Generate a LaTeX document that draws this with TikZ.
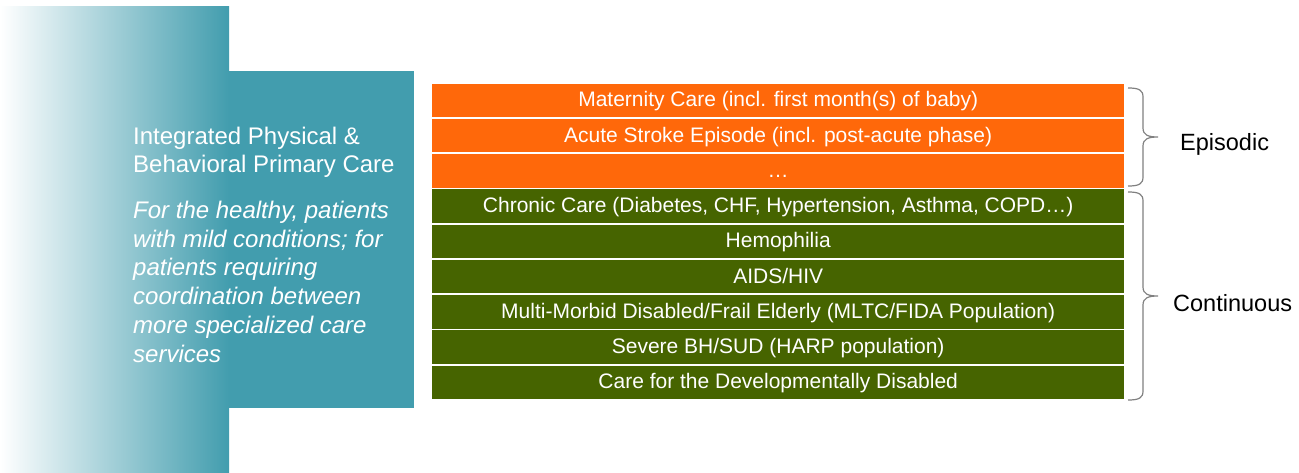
\documentclass[tikz,border=0pt]{standalone}
\usepackage{fontspec}
\setmainfont{Liberation Sans}
\usetikzlibrary{positioning}
\definecolor{tealcare}{RGB}{66,157,174}
\definecolor{orangecare}{RGB}{255,104,10}
\definecolor{greencare}{RGB}{70,100,0}
\definecolor{bracegray}{RGB}{128,128,128}

\begin{document}
\begin{tikzpicture}[x=1pt,y=-1pt,
    rowbox/.style={minimum width=692pt, minimum height=33.5pt, inner sep=0pt,
      text height=15pt, text depth=2pt,
      text=white, font=\fontsize{21}{25}\selectfont, anchor=north west},
    sidetext/.style={text=white, align=left, inner sep=0pt, anchor=base west},
    bracelabel/.style={font=\fontsize{23.5}{28}\selectfont, inner sep=0pt, anchor=base west},
    bracket/.style={draw=bracegray, line width=1.2pt}]
    \useasboundingbox (0,0) rectangle (1299,473);

    % Left panel
    \shade [left color=white, right color=tealcare] (0,7) rectangle (229,473);
    \fill [tealcare] (229,71) rectangle (414,408);
    \node [sidetext, font=\fontsize{24}{28.7}\selectfont] (head) at (133,173)
      {Integrated Physical \&\\Behavioral Primary Care};
    \node [sidetext, font=\fontsize{24}{28.7}\selectfont\itshape] (descr) at (133,362)
      {For the healthy, patients\\with mild conditions; for\\patients requiring\\coordination between\\more specialized care\\services};

    % Care rows
    \foreach \i/\txt/\col in {
        1/{Maternity Care (incl. first month(s) of baby)}/orangecare,
        2/{Acute Stroke Episode (incl. post-acute phase)}/orangecare,
        3/{…}/orangecare,
        4/{Chronic Care (Diabetes, CHF, Hypertension, Asthma, COPD…)}/greencare,
        5/{Hemophilia}/greencare,
        6/{AIDS/HIV}/greencare,
        7/{Multi-Morbid Disabled/Frail Elderly (MLTC/FIDA Population)}/greencare,
        8/{Severe BH/SUD (HARP population)}/greencare,
        9/{Care for the Developmentally Disabled}/greencare}
      \node [rowbox, fill=\col] (row\i) at (432,{83.5+35.25*(\i-1)}) {\txt};

    % Braces
    \draw [bracket] (1128,88) .. controls (1139,88) and (1143,90) .. (1143,97)
      -- (1143,128) .. controls (1143,135) and (1148,137) .. (1158,137)
      .. controls (1148,137) and (1143,139) .. (1143,146)
      -- (1143,177) .. controls (1143,184) and (1139,186) .. (1128,186);
    \draw [bracket] (1128,192) .. controls (1139,192) and (1143,194) .. (1143,201)
      -- (1143,287) .. controls (1143,294) and (1148,296) .. (1158,296)
      .. controls (1148,296) and (1143,298) .. (1143,305)
      -- (1143,391) .. controls (1143,398) and (1139,400) .. (1128,400);

    % Labels
    \node [bracelabel] (episodic) at (1180,151) {Episodic};
    \node [bracelabel] (continuous) at (1173,312) {Continuous};
\end{tikzpicture}
\end{document}
